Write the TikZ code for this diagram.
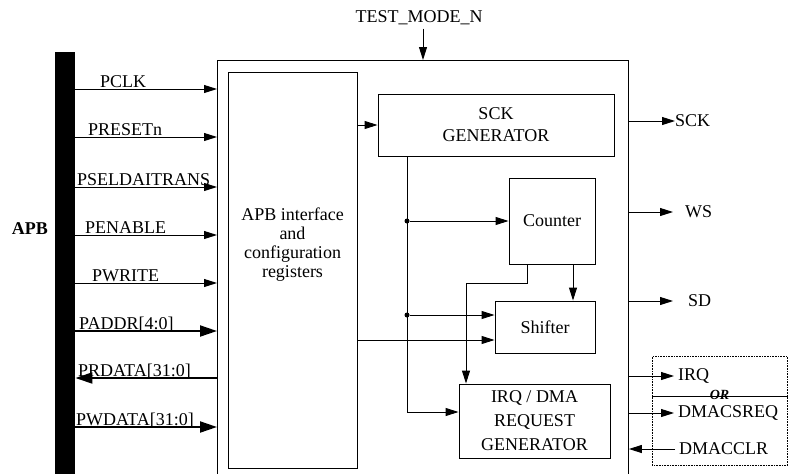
\documentclass[tikz,border=0pt]{standalone}
\usepackage{fontspec}
\setmainfont{Liberation Serif}
\usetikzlibrary{arrows.meta}

\begin{document}
\begin{tikzpicture}[
			x=1pt, y=-1pt,
			every node/.style={font=\fontsize{18}{21}\selectfont},
			blk/.style={draw, line width=0.9pt, inner sep=0pt, align=center},
			sig/.style={line width=0.9pt, -{Triangle[length=13pt,width=8pt]}},
			bus/.style={line width=2pt, -{Triangle[length=17pt,width=11pt]}},
			lbl/.style={inner xsep=0pt, inner ysep=1.5pt, text depth=0pt, anchor=south west},
			outlbl/.style={inner sep=0pt, anchor=west},
			dot/.style={circle, fill, inner sep=0pt, minimum size=5pt}
			]
			\clip (0,0) rectangle (790,474);
			
			\node[fill, inner sep=0pt, minimum width=20, minimum height=440, anchor=north west] (apb) at (55,52) {};
			\node[font=\fontsize{18}{21}\selectfont\bfseries] (apblbl) at (30,229) {APB};
			\node[blk, anchor=north west, minimum width=411, minimum height=440] (main) at (217,60) {};
			
			\node (tmode) at (419,18) {TEST\_MODE\_N};
			\draw[sig] (tmode.south -| 423,0) -- (main.north -| 423,0);
			
			% blocks
			\node[blk, anchor=north west, minimum width=129, minimum height=396] (regs) at (228,72) {};
			\node[align=center, font=\fontsize{18}{19}\selectfont] (regstxt) at (292.5,245) {APB interface\\and\\configuration\\registers};
			\node[blk, font=\fontsize{18}{22}\selectfont, minimum width=236, minimum height=62] (sckgen) at (496,125) {SCK\\GENERATOR};
			\node[blk, minimum width=86, minimum height=86] (counter) at (552,221) {Counter};
			\node[blk, minimum width=100, minimum height=52] (shifter) at (545,327) {Shifter};
			\node[blk, font=\fontsize{18}{24}\selectfont, minimum width=151, minimum height=74] (irqgen) at (534.5,421) {IRQ / DMA\\REQUEST\\GENERATOR};
			
			% APB side
			\node[lbl] (pclk) at (100,89) {PCLK};
			\node[lbl] (preset) at (88,137) {PRESETn};
			\node[lbl] (psel) at (77,187) {PSELDAITRANS};
			\node[lbl] (penable) at (85,235) {PENABLE};
			\node[lbl] (pwrite) at (92,283) {PWRITE};
			\node[lbl] (paddr) at (79,331) {PADDR[4:0]};
			\node[lbl] (prdata) at (78,378) {PRDATA[31:0]};
			\node[lbl] (pwdata) at (76,427) {PWDATA[31:0]};
			
			\draw[sig] (apb.east |- pclk.south) -- (main.west |- pclk.south);
			\draw[sig] (apb.east |- preset.south) -- (main.west |- preset.south);
			\draw[sig] (apb.east |- psel.south) -- (main.west |- psel.south);
			\draw[sig] (apb.east |- penable.south) -- (main.west |- penable.south);
			\draw[sig] (apb.east |- pwrite.south) -- (main.west |- pwrite.south);
			\draw[bus] (apb.east |- paddr.south) -- (main.west |- paddr.south);
			\draw[bus] (main.west |- prdata.south) -- (apb.east |- prdata.south);
			\draw[bus] (apb.east |- pwdata.south) -- (main.west |- pwdata.south);
			
			% inside
			\node[dot] (j1) at (407,221) {};
			\node[dot] (j2) at (407,315) {};
			\draw[sig] (regs.east |- sckgen.west) -- (sckgen.west);
			\draw[sig] (regs.east |- 0,340) -- (shifter.west |- 0,340);
			\draw[sig] (sckgen.south -| j1) |- (irqgen.west |- 0,412);
			\draw[sig] (j1) -- (counter.west);
			\draw[sig] (j2) -- (shifter.west |- j2);
			\draw[sig] (counter.south -| 527,0) |- (466,283) -- (irqgen.north -| 466,0);
			\draw[sig] (counter.south -| 573,0) -- (shifter.north -| 573,0);
			
			% outputs
			\node[outlbl] (sck) at (675,121) {SCK};
			\node[outlbl] (ws) at (685,212) {WS};
			\node[outlbl] (sd) at (688,301) {SD};
			\draw[sig] (main.east |- sck) -- (sck.west);
			\draw[sig] (main.east |- ws) -- (ws.west -| 673,0);
			\draw[sig] (main.east |- sd) -- (sd.west -| 673,0);
			
			\node[draw, densely dotted, line width=0.6pt, inner sep=0pt, anchor=north west, minimum width=135, minimum height=109] (dmabox) at (652,356) {};
			\draw[line width=0.9pt] (dmabox.west |- 0,396) -- (dmabox.east |- 0,396);
			\node[font=\fontsize{14}{16}\selectfont\bfseries\itshape, inner sep=0pt] (orlbl) at (719.5,395) {OR};
			\node[outlbl] (irq) at (678,376) {IRQ};
			\node[outlbl] (dmareq) at (678,413) {DMACSREQ};
			\node[outlbl] (dmaclr) at (679,449) {DMACCLR};
			\draw[sig] (main.east |- irq) -- (irq.west -| 674,0);
			\draw[sig] (main.east |- dmareq) -- (dmareq.west -| 674,0);
			\draw[sig] (dmaclr.west -| 675,0) -- (main.east |- dmaclr);
		\end{tikzpicture}
\end{document}
